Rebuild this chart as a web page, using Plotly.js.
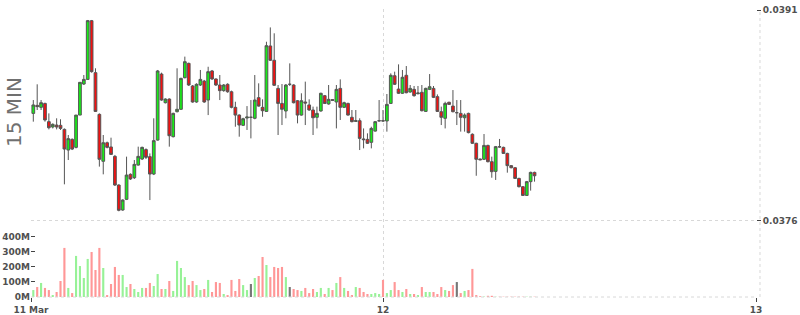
<!DOCTYPE html>
<html><head><meta charset="utf-8">
<script src="https://cdn.plot.ly/plotly-3.0.1.min.js"></script>
<style>html,body{margin:0;padding:0;background:#fff}#chart{width:800px;height:315px}</style>
</head><body><div id="chart"></div>
<script>
// 15-minute bars, first bar 11 Mar 01:30
const firstBarUTC = Date.UTC(2024, 2, 11, 1, 30);
const barMinutes = 15;

const open = [
0.038364,0.038421,0.038407,0.038435,0.038305,0.038267,0.038281,0.038279,0.038250,0.038103,
0.038179,0.038122,0.038352,0.038573,0.038606,0.039024,0.038654,0.038357,0.038023,0.038155,
0.038125,0.038058,0.037854,0.037676,0.037752,0.037930,0.037906,0.037996,0.038039,0.038106,
0.038056,0.037932,0.038174,0.038644,0.038440,0.038466,0.038198,0.038376,0.038393,0.038618,
0.038720,0.038559,0.038445,0.038566,0.038594,0.038459,0.038666,0.038609,0.038566,0.038526,
0.038571,0.038518,0.038407,0.038352,0.038279,0.038331,0.038336,0.038329,0.038476,0.038407,
0.038378,0.038844,0.038742,0.038542,0.038435,0.038381,0.038571,0.038566,0.038454,0.038352,
0.038445,0.038424,0.038388,0.038336,0.038381,0.038490,0.038431,0.038462,0.038445,0.038542,
0.038407,0.038435,0.038336,0.038307,0.038312,0.038182,0.038179,0.038158,0.038238,0.038310,
0.038312,0.038310,0.038435,0.038632,0.038537,0.038507,0.038635,0.038516,0.038535,0.038504,
0.038514,0.038378,0.038535,0.038542,0.038483,0.038376,0.038329,0.038443,0.038416,0.038369,
0.038364,0.038333,0.038364,0.038215,0.038151,0.038039,0.038037,0.038136,0.038020,0.037951,
0.038127,0.038122,0.038079,0.037992,0.037977,0.037901,0.037842,0.037780,0.037878,0.037944
];
const high = [
0.038459,0.038571,0.038459,0.038440,0.038364,0.038293,0.038329,0.038322,0.038257,0.038210,
0.038186,0.038352,0.038585,0.038637,0.039029,0.039029,0.038685,0.038364,0.038210,0.038163,
0.038191,0.038068,0.037859,0.037752,0.038056,0.037937,0.038032,0.038127,0.038127,0.038115,
0.038079,0.038329,0.038673,0.038654,0.038471,0.038471,0.038369,0.038685,0.038618,0.038768,
0.038725,0.038566,0.038578,0.038673,0.038602,0.038696,0.038673,0.038613,0.038637,0.038573,
0.038578,0.038526,0.038447,0.038357,0.038333,0.038416,0.038459,0.038637,0.038578,0.038464,
0.038874,0.038976,0.038934,0.038566,0.038573,0.038573,0.038720,0.038571,0.038459,0.038507,
0.038590,0.038464,0.038412,0.038412,0.038511,0.038495,0.038566,0.038466,0.038566,0.038606,
0.038447,0.038440,0.038388,0.038388,0.038329,0.038257,0.038222,0.038269,0.038310,0.038459,
0.038388,0.038502,0.038649,0.038661,0.038713,0.038673,0.038701,0.038566,0.038559,0.038559,
0.038566,0.038547,0.038644,0.038559,0.038499,0.038412,0.038447,0.038447,0.038530,0.038459,
0.038459,0.038364,0.038369,0.038222,0.038155,0.038042,0.038217,0.038141,0.038056,0.038132,
0.038182,0.038127,0.038084,0.037996,0.037982,0.037906,0.037847,0.037883,0.037949,0.037949
];
const low = [
0.038305,0.038388,0.038388,0.038305,0.038250,0.038257,0.038250,0.038246,0.037859,0.038032,
0.038103,0.038115,0.038352,0.038566,0.038602,0.038654,0.038374,0.037985,0.037930,0.038115,
0.038068,0.037847,0.037667,0.037671,0.037747,0.037890,0.037897,0.037992,0.038032,0.038039,
0.037747,0.037925,0.038170,0.038454,0.038435,0.038127,0.038193,0.038371,0.038388,0.038613,
0.038559,0.038440,0.038440,0.038559,0.038440,0.038352,0.038602,0.038559,0.038459,0.038518,
0.038511,0.038400,0.038269,0.038198,0.038274,0.038246,0.038186,0.038322,0.038412,0.038340,
0.038374,0.038737,0.038559,0.038210,0.038281,0.038329,0.038559,0.038435,0.038293,0.038348,
0.038281,0.038383,0.038210,0.038257,0.038376,0.038431,0.038426,0.038452,0.038257,0.038317,
0.038402,0.038348,0.038300,0.038303,0.038103,0.038115,0.038146,0.038115,0.038234,0.038305,
0.038305,0.038234,0.038431,0.038566,0.038502,0.038502,0.038507,0.038511,0.038483,0.038499,
0.038378,0.038374,0.038530,0.038473,0.038374,0.038281,0.038257,0.038424,0.038371,0.038281,
0.038234,0.038234,0.038222,0.038146,0.037920,0.038030,0.038032,0.038015,0.037906,0.037890,
0.038120,0.038075,0.037942,0.037973,0.037897,0.037837,0.037776,0.037776,0.037814,0.037878
];
const close = [
0.038424,0.038412,0.038440,0.038317,0.038262,0.038286,0.038267,0.038257,0.038110,0.038184,
0.038110,0.038352,0.038585,0.038606,0.039024,0.038661,0.038378,0.038037,0.038155,0.038122,
0.038072,0.037854,0.037674,0.037747,0.037925,0.037897,0.038001,0.038058,0.038122,0.038051,
0.037932,0.038170,0.038666,0.038459,0.038466,0.038205,0.038364,0.038393,0.038613,0.038732,
0.038566,0.038445,0.038571,0.038606,0.038445,0.038661,0.038609,0.038566,0.038526,0.038566,
0.038518,0.038407,0.038352,0.038281,0.038326,0.038338,0.038336,0.038459,0.038416,0.038383,
0.038846,0.038742,0.038564,0.038435,0.038393,0.038566,0.038571,0.038440,0.038352,0.038454,
0.038438,0.038388,0.038333,0.038364,0.038507,0.038435,0.038464,0.038457,0.038535,0.038407,
0.038440,0.038352,0.038305,0.038312,0.038186,0.038177,0.038151,0.038257,0.038305,0.038312,
0.038310,0.038428,0.038635,0.038571,0.038507,0.038621,0.038511,0.038542,0.038490,0.038509,
0.038383,0.038542,0.038554,0.038478,0.038378,0.038336,0.038435,0.038428,0.038376,0.038369,
0.038336,0.038352,0.038227,0.038151,0.038037,0.038034,0.038136,0.038020,0.037949,0.038127,
0.038125,0.038079,0.037992,0.037977,0.037901,0.037842,0.037780,0.037878,0.037944,0.037920
];
const volumeMillions = [
46,66,93,60,46,13,33,106,325,60,
26,272,205,126,252,298,179,325,192,13,
86,199,146,146,66,86,53,33,60,60,
93,73,152,53,53,106,40,239,192,132,
79,106,79,46,53,113,33,99,93,20,
13,113,40,119,79,46,86,126,139,265,
212,132,199,192,199,132,66,53,46,40,
60,26,53,33,60,20,60,46,93,132,
60,40,13,66,60,33,20,20,26,20,
113,26,46,99,46,33,53,20,20,13,
66,33,33,33,20,66,46,40,79,99,
26,40,46,186,13,5,3,8,8,2,
2,2,2,2,2,2,2,2,2,2
];

const priceTicks = [0.0376, 0.0391];
const volumeTicks = [0, 100, 200, 300, 400];
const volumeTickText = ['0M', '100M', '200M', '300M', '400M'];
const dateTickVals = ['2024-03-11 01:21:04', '2024-03-12 00:00', '2024-03-13 00:00'];
const dateTickText = ['11 Mar', '12', '13'];
const paneLabel = '15 MIN';

const times = open.map((_, i) =>
  new Date(firstBarUTC + i * barMinutes * 60000).toISOString().slice(0, 16).replace('T', ' '));
const volColors = open.map((o, i) =>
  close[i] > o ? '#97f297' : (close[i] < o ? '#ff9797' : '#777777'));

const gridColor = '#d8d8d8';
const tickFont = {family: 'DejaVu Sans, Verdana, sans-serif', size: 9, color: '#505050', weight: 'bold'};
const traces = [
  {
    type: 'bar', x: times, y: volumeMillions, yaxis: 'y2',
    marker: {color: volColors, line: {width: 0}}, hoverinfo: 'skip'
  },
  {
    type: 'candlestick', x: times, open: open, high: high, low: low, close: close,
    increasing: {line: {color: '#555555', width: 1}, fillcolor: '#18ec18'},
    decreasing: {line: {color: '#555555', width: 1}, fillcolor: '#f41010'},
    whiskerwidth: 0, hoverinfo: 'skip'
  }
];

const layout = {
  width: 800, height: 315,
  margin: {l: 31, r: 44, t: 9, b: 18, pad: 0},
  paper_bgcolor: '#ffffff', plot_bgcolor: '#ffffff',
  showlegend: false,
  bargap: 0.45,
  boxgap: 0.0,
  font: {family: 'DejaVu Sans, Verdana, sans-serif', size: 10, color: '#444444'},
  xaxis: {
    type: 'date', range: ['2024-03-11 01:21:04', '2024-03-13 00:00'],
    tickmode: 'array', tickvals: dateTickVals, ticktext: dateTickText, tickfont: tickFont,
    showgrid: true, gridcolor: gridColor, griddash: '3px,3px', gridwidth: 1,
    ticks: 'outside', ticklen: 4, tickcolor: '#444', showline: false, zeroline: false,
    rangeslider: {visible: false}, fixedrange: true
  },
  yaxis: {
    side: 'right', range: [0.0370568, 0.0391071],
    tickmode: 'array', tickvals: priceTicks, tickformat: '.4f', tickfont: tickFont,
    showgrid: true, gridcolor: gridColor, griddash: '3px,3px', gridwidth: 1,
    ticks: 'outside', ticklen: 4, tickcolor: '#444', showline: false, zeroline: false,
    fixedrange: true
  },
  yaxis2: {
    overlaying: 'y', side: 'left', range: [0, 1907],
    tickmode: 'array', tickvals: volumeTicks, ticktext: volumeTickText, tickfont: tickFont,
    showgrid: false, ticks: 'inside', ticklen: 4, tickcolor: '#444',
    showline: false, zeroline: false, fixedrange: true
  },
  shapes: [
    {type: 'line', xref: 'paper', yref: 'paper', x0: 0, x1: 1, y0: 0, y1: 0,
     line: {color: gridColor, width: 1, dash: '3px,3px'}},
    {type: 'line', xref: 'paper', yref: 'paper', x0: 1.0055, x1: 1.0055, y0: 0, y1: 1,
     line: {color: gridColor, width: 1, dash: '3px,3px'}}
  ],
  annotations: [
    {text: paneLabel, xref: 'paper', yref: 'paper', x: -0.0235, y: 0.642,
     xanchor: 'center', yanchor: 'middle', textangle: -90, showarrow: false,
     font: {family: 'DejaVu Sans, Verdana, sans-serif', size: 20, color: '#707070'}}
  ]
};

Plotly.newPlot('chart', traces, layout, {displayModeBar: false, staticPlot: true});
</script>
</body></html>
